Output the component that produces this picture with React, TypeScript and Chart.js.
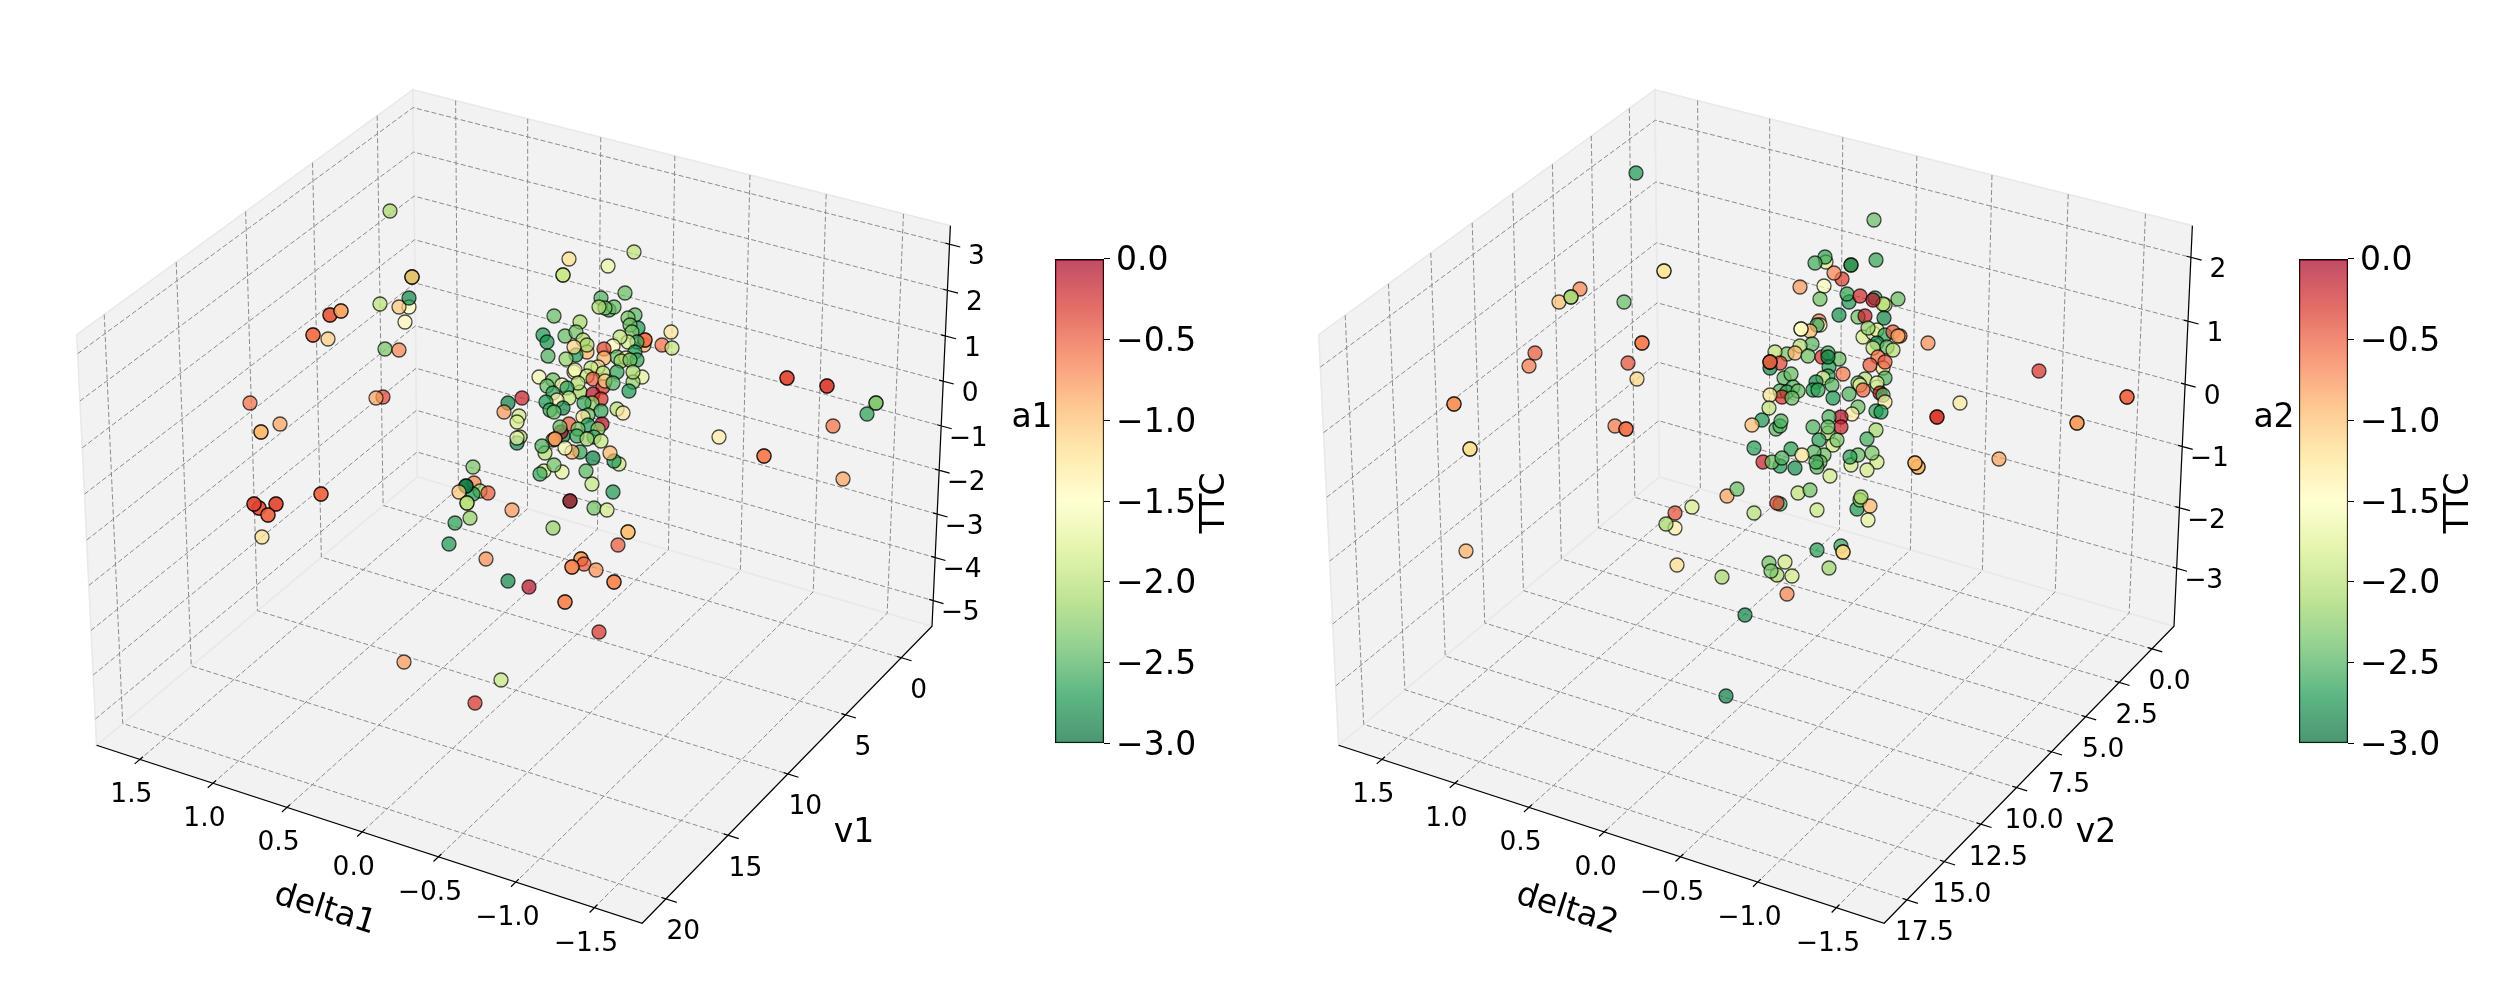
import React, { useEffect, useRef } from 'react';
import Chart from 'chart.js/auto';

// Both 3D views are mplot3d style, elev 30 / azim 120, box aspect 4:4:3.
const ELEV = (30 * Math.PI) / 180;
const AZIM = (120 * Math.PI) / 180;
const BOX = [1.1905, 1.1905, 0.8929];
const CAMERA_DIST = 10;
const VIEW_CENTER_X = 52.2;
const VIEW_CENTER_Y = 48.64;
const VIEW_SCALE_X = 52.5;
const VIEW_SCALE_Y = 52.42;
const PANEL2_SHIFT = 124.2;

const deltaLimits = [-1.8, 1.8];
const deltaTicks = [1.5, 1.0, 0.5, 0.0, -0.5, -1.0, -1.5];

const v1Limits = [-2.84, 21.86];
const v1Ticks = [0, 5, 10, 15, 20];
const a1Limits = [-5.6, 3.4];
const a1Ticks = [3, 2, 1, 0, -1, -2, -3, -4, -5];

const v2Limits = [-1.71, 19.0];
const v2Ticks = [0, 2.5, 5, 7.5, 10, 12.5, 15, 17.5];
const a2Limits = [-3.97, 2.49];
const a2Ticks = [2, 1, 0, -1, -2, -3];

const RDYLGN = [
  [165, 0, 38], [215, 48, 39], [244, 109, 67], [253, 174, 97], [254, 224, 139], [255, 255, 191],
  [217, 239, 139], [166, 217, 106], [102, 189, 99], [26, 152, 80], [0, 104, 55],
];

// Depth can't be read off a flat picture, so the points are kept in projected
// view coordinates: [view x, view y, TTC]
const points1: number[][] = [
  [39.0, 21.1, -2.1], [41.2, 27.7, -2.9], [41.2, 27.7, -1.9], [41.2, 27.7, -1.0], [40.9, 30.7, -1.5], [39.9, 30.7, -1.05],
  [40.9, 29.8, -2.8], [38.0, 30.4, -1.95], [40.5, 32.2, -1.45], [33.0, 31.5, -0.5], [33.0, 31.5, -0.5],
  [34.1, 31.1, -0.85], [34.1, 31.1, -0.85], [31.3, 33.5, -0.6], [31.3, 33.5, -0.6], [32.8, 33.9, -1.1],
  [38.5, 34.9, -2.3], [39.9, 35.0, -0.7], [38.3, 39.7, -0.4], [37.6, 39.8, -0.85], [25.0, 40.3, -0.6],
  [26.1, 43.2, -0.95], [26.1, 43.2, -0.95], [28.0, 42.4, -0.85], [25.9, 50.8, -0.45], [25.9, 50.8, -0.45],
  [25.4, 50.4, -0.4], [25.4, 50.4, -0.4], [27.6, 50.4, -0.4], [27.6, 50.4, -0.4], [26.8, 51.5, -0.55],
  [26.8, 51.5, -0.55], [32.1, 49.4, -0.55], [32.1, 49.4, -0.55], [26.2, 53.7, -1.2],
  [47.3, 46.7, -2.3], [47.4, 48.3, -0.7], [48.0, 49.1, -2.1], [47.3, 49.4, -2.7], [48.8, 49.3, -0.5],
  [46.6, 48.6, -2.9], [46.6, 48.6, -2.9], [45.9, 49.2, -1.05], [46.7, 50.3, -2.0], [46.7, 50.3, -2.0],
  [47.0, 51.8, -2.2], [45.5, 52.3, -2.65], [44.9, 54.4, -2.7], [51.2, 51.0, -0.8], [48.6, 55.9, -0.75],
  [50.8, 58.1, -2.8], [52.9, 58.7, -0.1], [55.3, 52.8, -2.2], [57.0, 50.1, -2.7], [57.0, 50.1, -0.05],
  [59.4, 50.8, -2.35], [60.7, 51.0, -1.85], [59.2, 48.4, -1.9], [61.3, 49.2, -2.7],
  [58.6, 47.1, -2.45], [56.2, 47.2, -1.7], [54.4, 47.1, -1.8], [54.0, 47.4, -2.6], [55.4, 46.5, -2.35],
  [62.8, 53.2, -1.0], [62.8, 53.2, -1.0], [61.8, 54.5, -0.5], [58.1, 55.9, -0.8], [58.1, 55.9, -0.8],
  [58.4, 56.4, -0.5], [57.2, 56.7, -0.7], [57.2, 56.7, -0.7], [59.6, 57.0, -0.75], [61.4, 58.2, -0.7],
  [61.4, 58.2, -0.7], [56.5, 60.2, -0.7], [56.5, 60.2, -0.7], [59.9, 63.2, -0.3], [40.4, 66.2, -0.8],
  [50.1, 68.0, -1.9], [47.5, 70.3, -0.3],
  [63.4, 25.2, -1.95], [56.9, 25.9, -1.2], [60.8, 26.6, -1.65], [56.3, 27.5, -1.9], [56.3, 27.5, -1.9],
  [62.5, 29.3, -2.4], [60.1, 29.8, -2.5], [60.9, 31.0, -2.6], [61.4, 30.7, -2.4], [60.5, 30.8, -2.3],
  [59.9, 30.7, -2.05], [55.4, 31.6, -2.4], [63.5, 31.5, -2.45], [62.8, 31.8, -2.3], [58.0, 32.2, -2.1],
  [54.3, 33.5, -2.7], [54.7, 34.2, -2.75], [56.5, 33.6, -2.4], [57.6, 33.2, -2.35], [58.3, 34.0, -2.0],
  [58.7, 35.2, -0.95], [58.7, 34.5, -2.1], [57.6, 35.5, -2.7], [57.4, 34.7, -1.15], [54.8, 35.6, -2.5],
  [56.6, 35.9, -2.2], [63.8, 32.8, -2.7], [63.0, 32.5, -2.4], [63.2, 33.2, -2.3], [64.4, 34.5, -0.9],
  [64.5, 34.0, -0.6], [64.5, 34.0, -0.6], [63.7, 34.2, -2.6], [62.8, 34.2, -1.8], [62.0, 33.7, -1.95],
  [61.3, 34.6, -1.5], [63.5, 35.2, -2.7], [60.4, 34.9, -0.4], [61.7, 35.7, -2.4], [60.4, 35.8, -0.95],
  [62.6, 35.8, -1.2], [62.1, 36.1, -2.1], [63.7, 36.0, -2.6], [63.0, 36.0, -2.4], [66.2, 34.5, -0.6],
  [67.1, 33.2, -1.25], [67.2, 34.8, -1.9], [57.4, 37.2, -1.7], [57.5, 37.0, -1.6], [59.8, 36.7, -1.3],
  [59.1, 36.8, -1.95], [58.7, 37.6, -1.9], [60.3, 37.3, -2.0], [61.7, 37.2, -2.6], [64.2, 37.7, -1.7],
  [63.3, 38.2, -2.2], [63.3, 37.2, -2.1], [53.9, 37.7, -1.6], [55.3, 38.0, -2.4], [54.7, 38.6, -2.4],
  [56.2, 38.5, -1.4], [58.0, 39.2, -2.1], [57.8, 38.3, -2.0], [59.3, 37.9, -0.5], [60.3, 38.7, -0.3],
  [60.5, 38.1, -1.1], [61.3, 38.3, -2.5], [62.9, 39.1, -2.7], [56.7, 38.8, -2.7], [55.3, 39.3, -2.6],
  [59.3, 39.4, -0.1], [60.1, 39.9, -0.3], [56.9, 39.8, -1.9], [55.7, 40.0, -1.4], [59.2, 40.3, -2.2],
  [58.4, 40.3, -2.6], [54.6, 40.2, -2.7], [55.0, 41.0, -2.6], [56.3, 40.8, -2.8], [55.4, 41.2, -2.4],
  [52.2, 39.8, -0.2], [50.8, 40.3, -2.85], [50.4, 41.2, -0.8], [51.9, 41.6, -1.85], [51.7, 42.2, -1.8],
  [60.1, 41.1, -2.6], [61.7, 40.9, -2.0], [62.3, 41.3, -1.3], [58.8, 41.5, -2.4], [58.3, 41.7, -1.3],
  [60.2, 42.4, -0.1], [56.9, 42.4, -0.5], [58.8, 42.5, -2.7], [56.3, 43.6, -2.8], [56.1, 43.2, -0.1],
  [56.0, 42.7, -2.4], [57.8, 42.9, -2.3], [59.8, 42.9, -2.2], [52.0, 43.7, -2.1], [51.7, 44.3, -2.8],
  [51.7, 43.8, -1.6], [57.7, 43.6, -2.6], [59.4, 43.7, -2.6], [58.7, 43.9, -2.15], [60.1, 44.1, -1.9],
  [55.3, 44.0, -2.3], [55.5, 43.9, -0.8], [55.5, 43.9, -0.8], [54.5, 45.3, -2.0], [54.2, 44.6, -2.5],
  [58.0, 45.2, -2.6], [57.2, 45.2, -0.9], [56.5, 44.8, -1.6], [59.3, 45.8, -2.85], [61.9, 46.4, -1.9],
  [61.4, 46.1, -2.7], [61.0, 45.3, -0.95], [71.9, 43.7, -1.35],
  [78.7, 37.8, -0.4], [78.7, 37.8, -0.4], [82.7, 38.6, -0.35], [82.7, 38.6, -0.35], [86.7, 41.4, -2.65],
  [87.6, 40.3, -2.3], [87.6, 40.3, -2.3], [83.3, 42.6, -0.6], [76.4, 45.6, -0.65], [76.4, 45.6, -0.65],
  [84.3, 47.9, -0.85],
];

const points2: number[][] = [
  [163.6, 17.3, -2.7], [166.4, 27.1, -1.25], [166.4, 27.1, -1.25], [158.0, 28.9, -0.7], [155.9, 30.2, -1.0],
  [157.1, 29.7, -1.2], [157.1, 29.7, -2.2], [162.4, 30.2, -2.4], [164.2, 34.3, -0.65], [164.2, 34.3, -0.65],
  [153.5, 35.3, -0.5], [152.9, 36.6, -0.65], [162.8, 36.3, -0.45], [163.7, 37.9, -1.15], [145.4, 40.4, -0.75],
  [145.4, 40.4, -0.75], [147.0, 44.9, -1.2], [147.0, 44.9, -1.2], [161.5, 42.6, -0.65], [162.6, 42.9, -0.6],
  [162.6, 42.9, -0.6], [146.6, 55.1, -0.9], [167.5, 51.3, -0.45], [167.5, 52.8, -1.35], [166.6, 52.4, -2.1],
  [167.7, 56.5, -1.2], [169.2, 50.7, -1.8], [172.7, 49.6, -0.85], [173.7, 48.9, -2.4], [175.4, 51.3, -2.0],
  [178.0, 50.4, -2.5], [177.7, 50.3, -0.4], [181.7, 51.0, -1.9], [185.7, 50.9, -2.7], [186.0, 50.0, -2.2],
  [187.0, 50.6, -0.95], [186.8, 52.0, -1.7], [181.7, 55.0, -2.65], [184.1, 54.6, -2.6], [184.3, 55.2, -1.15],
  [184.3, 55.2, -1.15], [182.9, 56.8, -2.15], [172.2, 57.7, -2.1], [178.5, 56.2, -1.85], [176.9, 56.3, -2.35],
  [177.7, 57.5, -2.1], [177.1, 57.1, -2.3], [179.2, 57.6, -1.85], [178.7, 59.4, -0.7], [174.5, 61.5, -2.8],
  [172.6, 69.6, -2.85],
  [187.4, 22.0, -2.4], [187.6, 26.0, -2.6], [182.6, 26.2, -1.8], [182.5, 25.7, -2.6], [181.5, 26.3, -2.55],
  [185.1, 26.5, -2.2], [185.1, 26.5, -2.9], [184.2, 27.9, -0.35], [183.4, 27.3, -0.7], [180.0, 28.7, -0.8],
  [182.4, 28.6, -1.55], [182.0, 29.9, -2.35], [184.9, 30.2, -2.7], [184.7, 29.4, -2.6], [186.0, 29.6, -0.25],
  [187.5, 29.8, -2.6], [188.5, 30.5, -1.9], [188.3, 30.4, -2.0], [187.3, 30.0, -0.1], [189.8, 29.9, -2.4],
  [183.9, 31.5, -2.75], [185.8, 31.7, -2.35], [186.5, 31.6, -0.15], [188.4, 31.8, -2.8], [181.9, 32.1, -0.7],
  [182.0, 32.5, -1.4], [181.7, 32.5, -2.6], [181.0, 33.1, -0.95], [180.1, 32.9, -1.5], [180.1, 32.9, -1.5],
  [186.3, 33.7, -1.8], [187.3, 33.3, -1.5], [187.7, 33.0, -1.8], [186.8, 32.8, -2.2], [188.5, 33.5, -2.6],
  [189.3, 33.2, -0.5], [190.0, 33.6, -0.45], [189.8, 33.6, -0.95], [187.7, 34.3, -2.8], [188.7, 34.7, -2.4],
  [189.3, 35.0, -2.0], [187.3, 34.8, -1.9], [192.8, 34.3, -0.75], [181.2, 34.4, -2.45], [178.7, 35.4, -2.3],
  [177.5, 35.2, -1.95], [180.0, 34.6, -2.0], [179.5, 35.3, -0.95], [180.8, 35.6, -2.35], [182.2, 35.7, -0.3],
  [183.9, 35.9, -2.4], [182.8, 35.3, -2.5], [182.9, 36.7, -2.65], [182.8, 35.7, -2.85], [187.8, 35.7, -0.6],
  [188.3, 36.8, -1.25], [188.5, 36.2, -0.5], [187.0, 36.5, -0.5], [178.0, 36.3, -0.4], [177.0, 36.8, -2.8],
  [177.0, 36.2, -2.9], [177.0, 36.2, -1.0], [177.0, 36.2, -0.4], [178.4, 37.8, -2.45], [179.1, 37.4, -2.4],
  [184.3, 37.4, -0.65], [182.8, 37.6, -2.6], [182.3, 37.8, -1.7], [181.6, 38.2, -2.8], [183.2, 38.5, -2.45],
  [186.5, 37.9, -2.0], [185.8, 38.3, -2.3], [186.0, 38.5, -1.7], [188.5, 37.8, -2.5], [186.3, 39.0, -0.55],
  [187.7, 38.7, -2.2], [187.7, 38.3, -1.7], [188.0, 39.3, -0.1], [188.3, 39.5, -2.5], [184.9, 39.4, -2.5],
  [183.3, 39.8, -2.7], [181.3, 39.0, -2.7], [181.8, 39.0, -2.6], [179.3, 38.7, -2.45], [178.0, 39.1, -2.5],
  [178.7, 39.2, -2.6], [179.8, 39.1, -2.4], [178.2, 39.7, -0.3], [179.2, 39.8, -2.4], [177.0, 39.5, -1.25],
  [188.5, 40.2, -1.3], [185.8, 40.7, -2.4], [187.6, 41.1, -2.6], [188.1, 41.2, -2.7], [176.9, 40.8, -1.95],
  [185.2, 41.4, -1.35], [184.1, 41.7, -0.1], [184.1, 42.7, -0.2], [182.9, 41.7, -2.5], [176.2, 42.0, -2.7],
  [175.2, 42.5, -1.0], [177.6, 42.9, -2.45], [178.0, 42.6, -2.5], [178.1, 42.1, -2.5], [181.3, 42.7, -2.5],
  [182.8, 43.3, -2.0], [182.8, 42.7, -2.4], [187.6, 43.0, -2.1], [186.7, 43.9, -2.55], [183.3, 44.5, -1.85],
  [183.7, 44.0, -2.3], [181.9, 44.0, -2.65], [193.7, 41.7, -0.3], [193.7, 41.7, -0.3], [175.4, 44.8, -2.65],
  [179.1, 44.9, -2.65], [182.4, 45.5, -2.35], [181.4, 45.2, -2.45], [185.1, 46.5, -1.85], [185.8, 45.5, -2.4],
  [185.0, 45.7, -2.65], [187.7, 46.2, -1.85], [187.2, 45.3, -2.3], [186.7, 47.0, -1.85], [180.2, 45.5, -1.25],
  [176.3, 46.2, -0.2], [178.0, 46.6, -2.7], [177.2, 46.2, -2.4], [178.2, 45.8, -2.5], [179.5, 46.8, -2.75],
  [182.0, 46.2, -2.4], [181.7, 46.7, -2.45], [181.6, 46.2, -2.5], [183.0, 47.6, -1.85], [191.8, 46.7, -0.95],
  [191.8, 46.7, -0.95], [191.5, 46.3, -0.95], [191.5, 46.3, -0.95], [179.8, 49.3, -1.95], [181.0, 49.0, -2.35],
  [186.1, 49.7, -2.1], [203.9, 37.1, -0.3], [196.0, 40.3, -1.3], [212.7, 39.7, -0.55], [212.7, 39.7, -0.55],
  [207.7, 42.3, -0.8], [207.7, 42.3, -0.8], [199.9, 45.9, -0.85],
];

const FONT = "'DejaVu Sans'";

const rdYlGnColor = (t: number, alpha: number) => {
  const pos = Math.max(0, Math.min(1, t)) * (RDYLGN.length - 1);
  const i = Math.min(Math.floor(pos), RDYLGN.length - 2);
  const f = pos - i;
  const c = RDYLGN[i].map((v, k) => Math.round(v + (RDYLGN[i + 1][k] - v) * f));
  return `rgba(${c[0]}, ${c[1]}, ${c[2]}, ${alpha})`;
};

// TTC 0 is the red end, -3 the green end
const ttcColor = (ttc: number) => rdYlGnColor(-ttc / 3, 0.7);

const fmt = (v: number, decimals: number) => v.toFixed(decimals).replace('-', '\u2212');

// unit box coords (0..1 on each axis) to view coords
const project = (X: number, Y: number, Z: number, shift: number) => {
  const dx = (X - 0.5) * BOX[0];
  const dy = (Y - 0.5) * BOX[1];
  const dz = (Z - 0.5) * BOX[2];
  const w = [Math.cos(ELEV) * Math.cos(AZIM), Math.cos(ELEV) * Math.sin(AZIM), Math.sin(ELEV)];
  const norm = Math.hypot(w[1], w[0]);
  const u = [-w[1] / norm, w[0] / norm, 0];
  const v = [w[1] * u[2] - w[2] * u[1], w[2] * u[0] - w[0] * u[2], w[0] * u[1] - w[1] * u[0]];
  const xe = dx * u[0] + dy * u[1] + dz * u[2];
  const ye = dx * v[0] + dy * v[1] + dz * v[2];
  const ze = dx * w[0] + dy * w[1] + dz * w[2];
  const s = 1 / (1 - ze / CAMERA_DIST);
  return { x: VIEW_CENTER_X + shift + xe * s * VIEW_SCALE_X, y: VIEW_CENTER_Y - ye * s * VIEW_SCALE_Y };
};

const unit = (value: number, limits: number[]) => (value - limits[0]) / (limits[1] - limits[0]);
const BREAK = { x: NaN, y: NaN };

interface PanelProps {
  left: number;
  width: number;
  shift: number;
  points: number[][];
  vLimits: number[];
  vTicks: number[];
  vDecimals: number;
  aLimits: number[];
  aTicks: number[];
  deltaName: string;
  vName: string;
  aName: string;
}

const Panel: React.FC<PanelProps> = (props) => {
  const canvasRef = useRef<HTMLCanvasElement>(null);

  useEffect(() => {
    if (!canvasRef.current) return;
    const { left, width, shift, points, vLimits, vTicks, vDecimals, aLimits, aTicks, deltaName, vName, aName } = props;
    const p = (X: number, Y: number, Z: number) => project(X, Y, Z, shift);

    const grid: { x: number; y: number }[] = [];
    const axes: { x: number; y: number }[] = [];
    deltaTicks.forEach((tick) => {
      const X = unit(tick, deltaLimits);
      grid.push(p(X, 0, 1), p(X, 0, 0), p(X, 1, 0), BREAK);
      axes.push(p(X, 0.991, 0), p(X, 1.015, 0), BREAK);
    });
    vTicks.forEach((tick) => {
      const Y = unit(tick, vLimits);
      grid.push(p(1, Y, 1), p(1, Y, 0), p(0, Y, 0), BREAK);
      axes.push(p(0.0075, Y, 0), p(-0.019, Y, 0), BREAK);
    });
    aTicks.forEach((tick) => {
      const Z = unit(tick, aLimits);
      grid.push(p(1, 1, Z), p(1, 0, Z), p(0, 0, Z), BREAK);
      axes.push(p(0.0075, 0, Z), p(-0.019, 0, Z), BREAK);
    });
    axes.push(p(1, 1, 0), p(0, 1, 0), p(0, 0, 0), p(0, 0, 1));

    const panes = [
      [p(1, 1, 0), p(0, 1, 0), p(0, 0, 0), p(1, 0, 0)],
      [p(1, 1, 0), p(1, 1, 1), p(1, 0, 1), p(1, 0, 0)],
      [p(1, 0, 0), p(1, 0, 1), p(0, 0, 1), p(0, 0, 0)],
    ];

    const panesPlugin = {
      id: 'panes',
      beforeDatasetsDraw(chart: any) {
        const { ctx, scales } = chart;
        ctx.save();
        panes.forEach((pane) => {
          ctx.beginPath();
          pane.forEach((c, i) => {
            const px = scales.x.getPixelForValue(c.x);
            const py = scales.y.getPixelForValue(c.y);
            if (i === 0) ctx.moveTo(px, py);
            else ctx.lineTo(px, py);
          });
          ctx.closePath();
          ctx.fillStyle = '#f2f2f2';
          ctx.fill();
          ctx.strokeStyle = '#e9e9e9';
          ctx.lineWidth = 1.6;
          ctx.stroke();
        });
        ctx.restore();
      },
    };

    const textPlugin = {
      id: 'axisText',
      afterDatasetsDraw(chart: any) {
        const { ctx, scales } = chart;
        const put = (text: string, x: number, y: number, size: number, rotation = 0) => {
          ctx.save();
          ctx.translate(scales.x.getPixelForValue(x), scales.y.getPixelForValue(y));
          ctx.rotate(rotation);
          ctx.font = `${size}px ${FONT}`;
          ctx.fillStyle = '#000';
          ctx.textAlign = 'center';
          ctx.textBaseline = 'middle';
          ctx.fillText(text, 0, 0);
          ctx.restore();
        };
        deltaTicks.forEach((tick) => {
          const c = p(unit(tick, deltaLimits), 1, 0);
          put(fmt(tick, 1), c.x - 0.85, c.y + 3.6, 26.5);
        });
        vTicks.forEach((tick) => {
          const c = p(0, unit(tick, vLimits), 0);
          put(fmt(tick, vDecimals), c.x + 1.75, c.y + 3.35, 26.5);
        });
        aTicks.forEach((tick) => {
          const c = p(0, 0, unit(tick, aLimits));
          put(fmt(tick, 0), c.x + 2.7, c.y + 1.3, 26.5);
        });
        put(deltaName, 32.5 + shift, 91, 33, 0.305);
        put(vName, 85.4 + shift, 83.35, 33);
        put(aName, 103.2 + shift, 41.85, 33);
      },
    };

    const chart = new Chart(canvasRef.current, {
      type: 'scatter',
      data: {
        datasets: [
          {
            label: 'points',
            data: points.map((pt) => ({ x: pt[0], y: pt[1] })),
            order: 0,
            pointRadius: 7,
            pointBorderWidth: 1.3,
            pointBackgroundColor: points.map((pt) => ttcColor(pt[2])),
            pointBorderColor: 'rgba(0, 0, 0, 0.7)',
          },
          {
            label: 'axes',
            data: axes,
            order: 1,
            showLine: true,
            pointRadius: 0,
            borderColor: '#000',
            borderWidth: 1.2,
          },
          {
            label: 'grid',
            data: grid,
            order: 2,
            showLine: true,
            pointRadius: 0,
            borderColor: '#8c8c8c',
            borderWidth: 1,
            borderDash: [5, 2.5],
          },
        ],
      },
      options: {
        responsive: false,
        animation: false,
        devicePixelRatio: 1,
        // no auto padding, the view scales have to span the whole canvas
        layout: { autoPadding: false, padding: 0 },
        events: [],
        plugins: { legend: { display: false }, tooltip: { enabled: false } },
        scales: {
          x: { type: 'linear', display: false, min: left / 10, max: (left + width) / 10 },
          y: { type: 'linear', display: false, min: 0, max: 100, reverse: true },
        },
      },
      plugins: [panesPlugin, textPlugin],
    } as any);

    return () => chart.destroy();
  }, []);

  return (
    <canvas
      ref={canvasRef}
      width={props.width}
      height={1000}
      style={{ position: 'absolute', left: props.left, top: 0, display: 'block' }}
    />
  );
};

const Colorbar: React.FC<{ left: number }> = ({ left }) => {
  const canvasRef = useRef<HTMLCanvasElement>(null);

  useEffect(() => {
    if (!canvasRef.current) return;

    const titlePlugin = {
      id: 'cbarTitle',
      afterDraw(chart: any) {
        const { ctx, chartArea } = chart;
        ctx.save();
        ctx.translate(chartArea.right + 111, (chartArea.top + chartArea.bottom) / 2 + 2);
        ctx.rotate(-Math.PI / 2);
        ctx.font = `33px ${FONT}`;
        ctx.fillStyle = '#000';
        ctx.textAlign = 'center';
        ctx.textBaseline = 'middle';
        ctx.fillText('TTC', 0, 0);
        ctx.restore();
      },
    };

    const chart = new Chart(canvasRef.current, {
      type: 'bar',
      data: {
        labels: ['TTC'],
        datasets: [
          {
            data: [[-3, 0]],
            barPercentage: 1,
            categoryPercentage: 1,
            borderWidth: 1,
            borderColor: '#000',
            borderSkipped: false,
            backgroundColor: (context: any) => {
              const area = context.chart.chartArea;
              if (!area) return 'transparent';
              const gradient = context.chart.ctx.createLinearGradient(0, area.top, 0, area.bottom);
              for (let i = 0; i <= 40; i++) gradient.addColorStop(i / 40, rdYlGnColor(i / 40, 0.7));
              return gradient;
            },
          },
        ],
      },
      options: {
        responsive: false,
        animation: false,
        devicePixelRatio: 1,
        events: [],
        layout: { autoPadding: false, padding: { left: 2, top: 25, bottom: 25, right: 0 } },
        plugins: { legend: { display: false }, tooltip: { enabled: false } },
        scales: {
          x: { display: false },
          y: {
            position: 'right',
            min: -3,
            max: 0,
            afterFit: (scale: any) => {
              scale.width = 141;
            },
            border: { display: false },
            grid: { drawOnChartArea: false, drawTicks: true, tickLength: 6, color: '#000', lineWidth: 1 },
            ticks: {
              stepSize: 0.5,
              padding: 6,
              labelOffset: 3,
              color: '#000',
              font: { family: FONT, size: 33 },
              callback: (value: any) => fmt(Number(value), 1),
            },
          },
        },
      },
      plugins: [titlePlugin],
    } as any);

    return () => chart.destroy();
  }, []);

  return (
    <canvas
      ref={canvasRef}
      width={192}
      height={536}
      style={{ position: 'absolute', left, top: 233, display: 'block' }}
    />
  );
};

export default function App() {
  return (
    <div style={{ position: 'absolute', left: 0, top: 0, width: 2500, height: 1000, background: '#fff', overflow: 'hidden' }}>
      <Panel
        left={0}
        width={1250}
        shift={0}
        points={points1}
        vLimits={v1Limits}
        vTicks={v1Ticks}
        vDecimals={0}
        aLimits={a1Limits}
        aTicks={a1Ticks}
        deltaName="delta1"
        vName="v1"
        aName="a1"
      />
      <Panel
        left={1250}
        width={1250}
        shift={PANEL2_SHIFT}
        points={points2}
        vLimits={v2Limits}
        vTicks={v2Ticks}
        vDecimals={1}
        aLimits={a2Limits}
        aTicks={a2Ticks}
        deltaName="delta2"
        vName="v2"
        aName="a2"
      />
      <Colorbar left={1053} />
      <Colorbar left={2297} />
    </div>
  );
}
